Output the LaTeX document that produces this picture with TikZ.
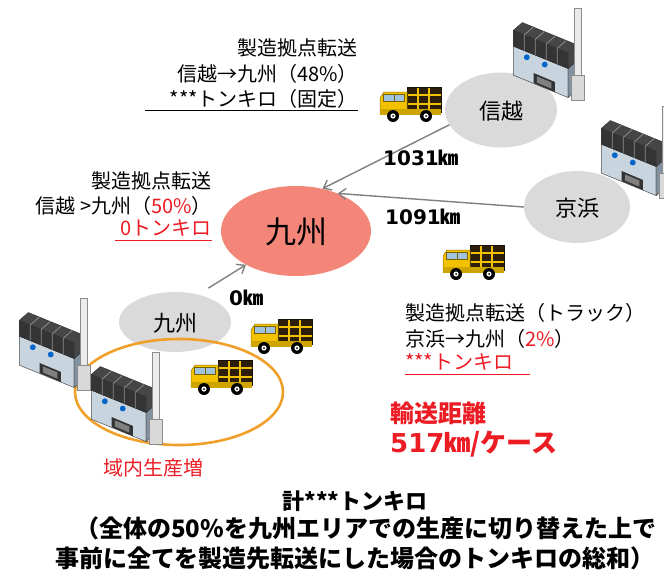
\documentclass[tikz,border=0pt]{standalone}
\usepackage{fontspec}
\usetikzlibrary{arrows.meta,shapes.geometric}
\setmainfont{Noto Sans CJK JP}
\newfontfamily\numfont{DejaVu Sans}

\definecolor{ellgray}{RGB}{218,218,218}
\definecolor{hubsalmon}{RGB}{243,134,120}
\definecolor{ringorange}{RGB}{240,160,40}
\definecolor{txtred}{RGB}{236,28,36}
\definecolor{arrgray}{RGB}{128,128,128}
\definecolor{cabyellow}{RGB}{242,194,0}
\definecolor{cargodark}{RGB}{45,30,12}
\definecolor{winblue}{RGB}{160,196,222}
\definecolor{roofdark}{RGB}{70,70,70}
\definecolor{roofface}{RGB}{52,52,52}
\definecolor{wallgray}{RGB}{200,212,222}
\definecolor{sidegray}{RGB}{130,146,160}

\tikzset{
  fs/.style={font=\fontsize{#1}{#1}\selectfont},
  txt/.style={inner sep=0pt, text depth=0pt},
  place/.style={ellipse, fill=ellgray, inner sep=0pt},
  arr/.style={draw=arrgray, line width=1.4pt, -{Straight Barb[length=7pt,width=11pt]}},
  dist/.style={txt, font=\fontsize{20}{20}\selectfont\bfseries},
  plant/.style={scale=1.12},
  % small delivery truck, cab facing left, centred on the pic origin
  truck/.pic={
    \fill[cargodark] (-3,-17) rectangle (31,8);
    \draw[cabyellow, line width=1.2pt] (8,-17) -- (8,8) (19,-17) -- (19,8)
      (-3,-9) -- (31,-9) (-3,0) -- (31,0);
    \draw[cargodark!60!black, line width=0.6pt] (-3,-17) rectangle (31,8);
    \filldraw[fill=cabyellow, draw=cabyellow!60!black, line width=0.5pt]
      (-30,10) -- (-30,-6) -- (-26,-12) -- (-3,-12) -- (-3,10) -- cycle;
    \filldraw[fill=winblue, draw=cabyellow!50!black, line width=0.4pt]
      (-27,-10) rectangle (-6,-3);
    \draw[cabyellow!50!black, line width=0.4pt] (-16,-10) -- (-16,-3);
    \fill[cabyellow!85!black] (-30,5) rectangle (31,11);
    \foreach \wx in {-17,16}{
      \fill[black] (\wx,12) circle (6);
      \fill[white] (\wx,12) circle (2.6);
      \fill[black] (\wx,12) circle (1);
    }
  },
  % factory block with saw-tooth roof and chimney, origin at top-left
  factory/.pic={
    \filldraw[fill=wallgray, draw=black!70, line width=0.5pt]
      (3,34) -- (52,54) -- (52,80) -- (3,60) -- cycle;
    \filldraw[fill=sidegray, draw=black!70, line width=0.5pt]
      (52,54) -- (60,47) -- (60,73) -- (52,80) -- cycle;
    \filldraw[fill=roofdark, draw=black!80, line width=0.5pt]
      (3,34) -- (3,20) -- (11,13) -- (60,33) -- (60,47) -- (52,54) -- cycle;
    \filldraw[fill=roofface, draw=black!80, line width=0.4pt]
      (3,34) -- (3,20) -- (52,40) -- (52,54) -- cycle;
    \foreach \t in {0.2,0.4,0.6,0.8}{
      \draw[black!45, line width=0.8pt] (3+49*\t,34+20*\t) -- (3+49*\t,20+20*\t)
        -- (11+49*\t,13+20*\t);
    }
    \fill[black!80] (21,58) -- (40,66) -- (40,75) -- (21,67) -- cycle;
    \fill[black!50] (24,61) -- (37,66.5) -- (37,72) -- (24,66.5) -- cycle;
    \fill[blue!50!cyan!80!black] (15,44) circle (2.6) (31,50.5) circle (2.6);
    \filldraw[fill=black!8, draw=black!45, line width=0.5pt] (57,0) rectangle (64,66);
    \filldraw[fill=black!15, draw=black!45, line width=0.5pt] (55,60) rectangle (66,82);
  }
}

\begin{document}
\begin{tikzpicture}[x=1pt, y=-1pt]
\useasboundingbox (0,0) rectangle (664,581);

% ---- regions ----
\node[place, minimum width=112, minimum height=75] (shinetsu) at (501,110) {};
\node[fs=22, txt] at (shinetsu) {信越};
\node[place, minimum width=106, minimum height=72] (keihin) at (577,207) {};
\node[fs=22, txt] at (keihin) {京浜};
\node[place, minimum width=112, minimum height=60] (kyushuS) at (175,322) {};
\node[fs=22, txt] at (kyushuS) {九州};
\node[ellipse, fill=hubsalmon, inner sep=0pt, minimum width=150, minimum height=90]
  (kyushu) at (296,231) {};
\node[fs=31, txt] at (kyushu) {九州};

% ---- local production ring ----
\node[ellipse, draw=ringorange, line width=2.6pt, inner sep=0pt,
  minimum width=208, minimum height=106] (ring) at (179,392) {};

% ---- factories ----
\pic[plant] at (510,8) {factory};
\pic[plant] at (598,106) {factory};
\pic[plant] at (16,298) {factory};
\pic[plant] at (88,352) {factory};

% ---- trucks ----
\pic at (410,104) {truck};
\pic at (473,262) {truck};
\pic at (281,336) {truck};
\pic at (221,377) {truck};

% ---- transfers ----
\draw[arr] (shinetsu.196) -- (kyushu.58);
\draw[arr] (keihin.180) -- (kyushu.42);
\draw[arr, shorten <=12pt] (kyushuS.50) -- (kyushu.214);

\node[dist, anchor=west] (d1) at (383,158) {{\numfont 1031}㎞};
\node[dist, anchor=west] (d2) at (385,217) {{\numfont 1091}㎞};
\node[dist, anchor=west] (d3) at (229,298) {{\numfont 0}㎞};

% ---- text blocks ----
\node[fs=20, txt, anchor=east] (a1) at (358,47) {製造拠点転送};
\node[fs=20, txt, anchor=east] (a2) at (358,73) {信越→九州（48\%）};
\node[fs=20, txt, anchor=east] (a3) at (358,98) {***トンキロ（固定）};
\coordinate (a3l) at (145,110);
\coordinate (a3r) at (358,110);
\draw[line width=0.8pt] (a3l) -- (a3r);

\node[fs=20, txt, anchor=east] (b1) at (212,180) {製造拠点転送};
\node[fs=20, txt, anchor=east] (b2) at (212,205) {信越 >九州（\textcolor{txtred}{50\%}）};
\node[fs=20, txt, anchor=east, text=txtred] (b3) at (212,228) {0トンキロ};
\coordinate (b3l) at (115,240);
\coordinate (b3r) at (212,240);
\draw[txtred, line width=0.8pt] (b3l) -- (b3r);

\node[fs=20, txt, anchor=west] (c1) at (405,312) {製造拠点転送（トラック）};
\node[fs=20, txt, anchor=west] (c2) at (405,338) {京浜→九州（\textcolor{txtred}{2\%}）};
\node[fs=20, txt, anchor=west, text=txtred] (c3) at (405,362) {***トンキロ};
\coordinate (c3l) at (405,374);
\coordinate (c3r) at (530,374);
\draw[txtred, line width=0.8pt] (c3l) -- (c3r);

\node[txt, anchor=west, text=txtred, font=\fontsize{24}{24}\selectfont\bfseries]
  (e1) at (390,412) {輸送距離};
\node[txt, anchor=west, text=txtred, font=\fontsize{26}{26}\selectfont\bfseries]
  (e2) at (390,442) {{\numfont 517}㎞/ケース};

\node[fs=20, txt, text=txtred] (f1) at (153,467) {域内生産増};

% ---- summary ----
\node[txt, font=\fontsize{22}{22}\selectfont\bfseries] (s1) at (355,500) {計***トンキロ};
\node[txt, anchor=west, font=\fontsize{24}{24}\selectfont\bfseries] (s2) at (75,527)
  {（全体の50\%を九州エリアでの生産に切り替えた上で};
\node[txt, anchor=west, font=\fontsize{24}{24}\selectfont\bfseries] (s3) at (55,557)
  {事前に全てを製造先転送にした場合のトンキロの総和）};
\end{tikzpicture}
\end{document}
